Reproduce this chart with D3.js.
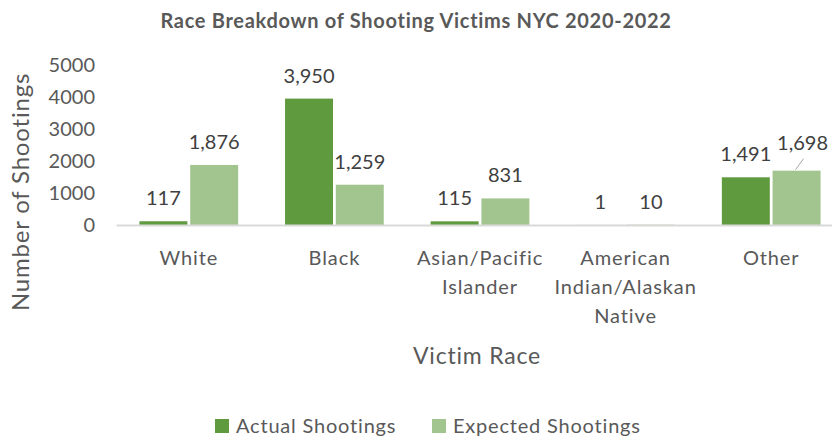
<!DOCTYPE html>
<html>
<head>
<meta charset="utf-8">
<script src="https://cdn.jsdelivr.net/npm/d3@7/dist/d3.min.js"></script>
<style>
  body { margin: 0; background: #fff; }
  text { font-family: Lato, "Open Sans", sans-serif; fill: #595959; }
</style>
</head>
<body>
<div id="chart"></div>
<script>
// data
const categories = ["White", "Black", "Asian/Pacific Islander", "American Indian/Alaskan Native", "Other"];
const categoryLines = [["White"], ["Black"], ["Asian/Pacific", "Islander"], ["American", "Indian/Alaskan", "Native"], ["Other"]];
const actualShootings = [117, 3950, 115, 1, 1491];
const expectedShootings = [1876, 1259, 831, 10, 1698];
const seriesNames = ["Actual Shootings", "Expected Shootings"];
const yTicks = [0, 1000, 2000, 3000, 4000, 5000];

const colors = { "Actual Shootings": "#5f9a3e", "Expected Shootings": "#a2c48f" };

const width = 832, height = 440;

var svg = d3.select('#chart')
  .append('svg')
  .attr('width', width)
  .attr('height', height);

// scales
const x = d3.scaleBand()
  .domain(categories)
  .range([116, 844])
  .paddingInner(0.322)
  .paddingOuter(0.161);

const x1 = d3.scaleBand()
  .domain(seriesNames)
  .range([0, x.bandwidth()])
  .paddingInner(0.055);

const y = d3.scaleLinear()
  .domain([0, 5000])
  .range([225, 65]);

// title
svg.append('text')
  .attr('x', 416)
  .attr('y', 28)
  .attr('text-anchor', 'middle')
  .style('font-weight', 'bold')
  .style('font-size', '20px')
  .style('letter-spacing', '0.7px')
  .text('Race Breakdown of Shooting Victims NYC 2020-2022');

// y axis (labels only)
const yAxis = svg.append('g')
  .attr('transform', 'translate(95,0)')
  .call(d3.axisLeft(y).tickValues(yTicks).tickSize(0).tickFormat(d3.format('d')));
yAxis.select('.domain').remove();
yAxis.selectAll('.tick text')
  .attr('x', 0)
  .style('font-family', 'Lato, sans-serif')
  .style('font-size', '20px')
  .style('fill', '#595959');

// rows for the bars
const rows = categories.map((c, i) => ({
  category: c,
  values: [
    { series: seriesNames[0], value: actualShootings[i] },
    { series: seriesNames[1], value: expectedShootings[i] }
  ]
}));

const groups = svg.selectAll('.group')
  .data(rows)
  .enter()
  .append('g')
  .attr('class', 'group')
  .attr('transform', d => `translate(${x(d.category)},0)`);

groups.selectAll('rect')
  .data(d => d.values)
  .enter()
  .append('rect')
  .attr('x', d => x1(d.series))
  .attr('y', d => y(d.value))
  .attr('width', x1.bandwidth())
  .attr('height', d => y(0) - y(d.value))
  .style('fill', d => colors[d.series]);

// x axis line
const xAxis = svg.append('g')
  .attr('transform', `translate(0,${y(0)})`)
  .call(d3.axisBottom(x).tickSize(0).tickFormat(''));
xAxis.select('.domain')
  .attr('stroke', '#d9d9d9')
  .attr('stroke-width', 2);

// category labels, wrapped
categories.forEach((c, i) => {
  const t = svg.append('text')
    .attr('text-anchor', 'middle')
    .style('font-size', '20px')
    .style('letter-spacing', '0.9px');
  categoryLines[i].forEach((line, j) => {
    t.append('tspan')
      .attr('x', x(c) + x.bandwidth() / 2)
      .attr('y', 265 + j * 29)
      .text(line);
  });
});

// data labels (the 1,698 label is pulled aside with a leader line)
const fmt = d3.format(',');
groups.each(function(d) {
  const g = d3.select(this);
  d.values.forEach(v => {
    const cx = x1(v.series) + x1.bandwidth() / 2;
    const top = y(v.value);
    let dx = 0, dy = 0;
    if (d.category === 'Other' && v.series === 'Expected Shootings') {
      dx = 6; dy = -5;
      g.append('line')
        .attr('x1', cx - 1)
        .attr('y1', top - 1)
        .attr('x2', cx + 7)
        .attr('y2', top - 12)
        .attr('stroke', '#a6a6a6')
        .attr('stroke-width', 1);
    }
    g.append('text')
      .attr('x', cx + dx)
      .attr('y', top - 16 + dy)
      .attr('text-anchor', 'middle')
      .style('font-size', '20px')
      .style('fill', '#404040')
      .text(fmt(v.value));
  });
});

// axis titles
svg.append('text')
  .attr('transform', 'translate(29,192) rotate(-90)')
  .attr('text-anchor', 'middle')
  .style('font-size', '24px')
  .style('letter-spacing', '0.8px')
  .text('Number of Shootings');

svg.append('text')
  .attr('x', 477)
  .attr('y', 364)
  .attr('text-anchor', 'middle')
  .style('font-size', '23px')
  .style('letter-spacing', '0.8px')
  .text('Victim Race');

// legend
const legendX = [215, 432];
seriesNames.forEach((s, i) => {
  svg.append('rect')
    .attr('x', legendX[i])
    .attr('y', 419)
    .attr('width', 14)
    .attr('height', 14)
    .style('fill', colors[s]);
  svg.append('text')
    .attr('x', legendX[i] + 21)
    .attr('y', 433)
    .style('font-size', '20px')
    .style('letter-spacing', '0.8px')
    .text(s);
});
</script>
</body>
</html>
